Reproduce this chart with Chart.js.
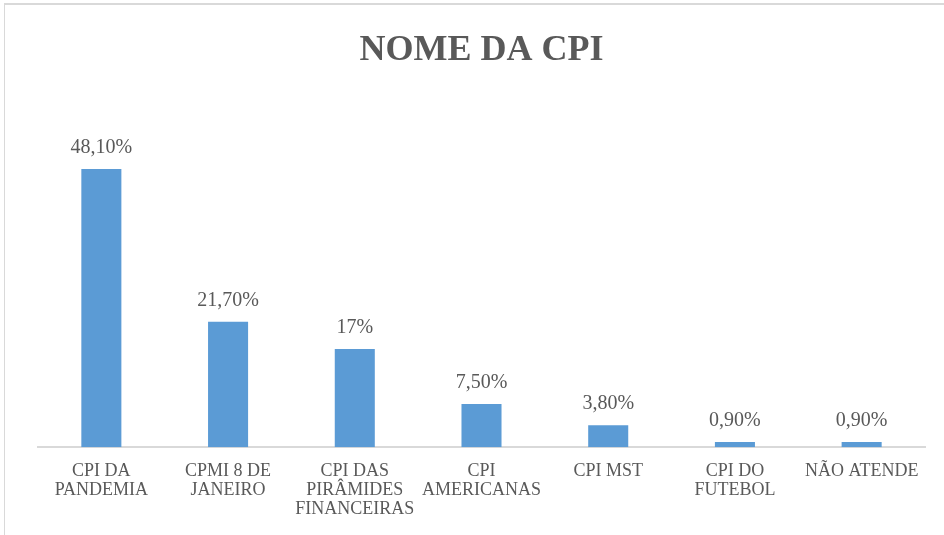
<!DOCTYPE html>
<html>
<head>
<meta charset="utf-8">
<script src="https://cdn.jsdelivr.net/npm/chart.js@4"></script>
<style>
html,body{margin:0;padding:0;background:#fff;}
#wrap{position:relative;width:944px;height:535px;overflow:hidden;}
#frame{position:absolute;left:4px;top:3px;width:960px;height:600px;border-top:2px solid #d9d9d9;border-left:1px solid #d9d9d9;box-sizing:border-box;pointer-events:none;}
canvas{position:absolute;left:0;top:0;}
</style>
</head>
<body>
<div id="wrap">
<canvas id="c" width="944" height="535"></canvas>
<div id="frame"></div>
</div>
<script>
const categories = [
  ["CPI DA", "PANDEMIA"],
  ["CPMI 8 DE", "JANEIRO"],
  ["CPI DAS", "PIRÂMIDES", "FINANCEIRAS"],
  ["CPI", "AMERICANAS"],
  ["CPI MST"],
  ["CPI DO", "FUTEBOL"],
  ["NÃO ATENDE"]
];
const values = [48.1, 21.7, 17, 7.5, 3.8, 0.9, 0.9];
const valueLabels = ["48,10%", "21,70%", "17%", "7,50%", "3,80%", "0,90%", "0,90%"];
const chartTitle = "NOME DA CPI";

const textColor = "#595959";
const serif = "'Liberation Serif', 'Times New Roman', serif";

const valueLabelPlugin = {
  id: 'valueLabels',
  afterDatasetsDraw(chart) {
    const ctx = chart.ctx;
    const meta = chart.getDatasetMeta(0);
    ctx.save();
    ctx.font = "20px " + serif;
    ctx.fillStyle = textColor;
    ctx.textAlign = "center";
    ctx.textBaseline = "alphabetic";
    meta.data.forEach((bar, i) => {
      ctx.fillText(valueLabels[i], bar.x, bar.y - 16);
    });
    ctx.restore();
  }
};

new Chart(document.getElementById('c'), {
  type: 'bar',
  data: {
    labels: categories,
    datasets: [{
      data: values,
      backgroundColor: "#5B9BD5",
      borderWidth: 0,
      barPercentage: 0.316,
      categoryPercentage: 1
    }]
  },
  options: {
    responsive: false,
    animation: false,
    devicePixelRatio: 1,
    layout: { padding: { left: 38, right: 19, top: 0, bottom: 1 } },
    plugins: {
      legend: { display: false },
      tooltip: { enabled: false },
      title: {
        display: true,
        text: chartTitle,
        color: textColor,
        font: { family: serif, size: 36, weight: 'bold' },
        padding: { top: 29, bottom: 28 }
      }
    },
    scales: {
      x: {
        grid: { display: false, drawTicks: false },
        border: { display: true, color: "#d9d9d9", width: 2 },
        ticks: {
          color: textColor,
          font: { family: serif, size: 18, lineHeight: 1.05 },
          maxRotation: 0,
          minRotation: 0,
          autoSkip: false,
          padding: 15
        }
      },
      y: {
        display: false,
        min: 0,
        max: 60
      }
    }
  },
  plugins: [valueLabelPlugin]
});
</script>
</body>
</html>
